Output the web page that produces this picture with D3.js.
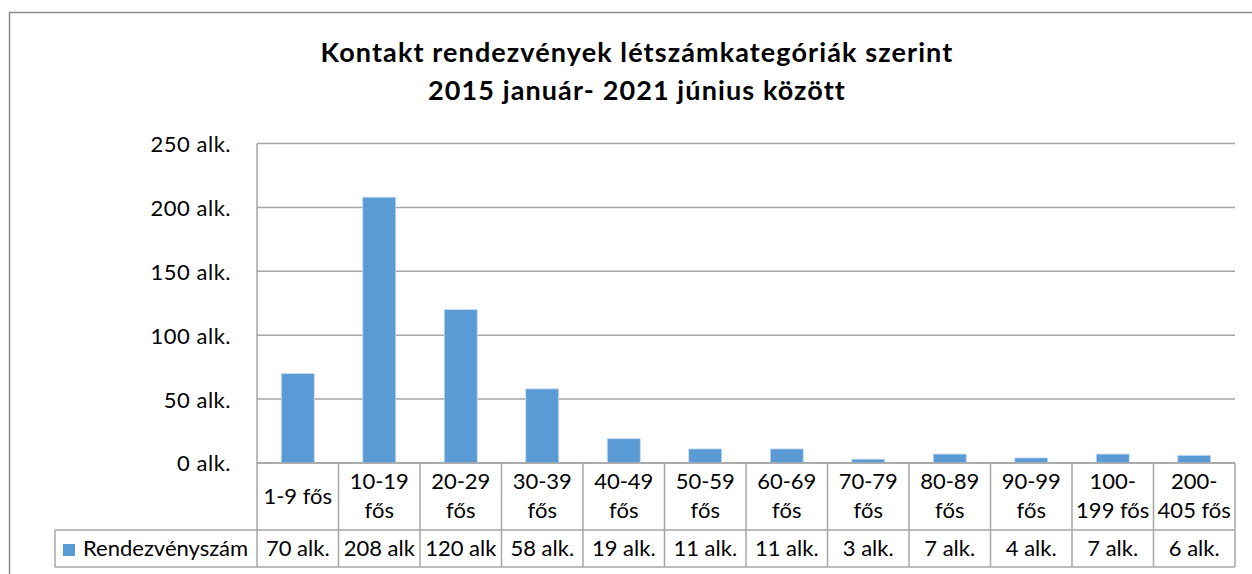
<!DOCTYPE html>
<html>
<head>
<meta charset="utf-8">
<script src="https://cdn.jsdelivr.net/npm/d3@7"></script>
<style>
  html, body { margin: 0; padding: 0; background: #fff; }
  svg { display: block; }
  text { font-family: Lato, "Noto Sans", sans-serif; fill: #000; }
</style>
</head>
<body>
<div id="chart"></div>
<script>
// ---- data ----
const titleLines = ["Kontakt rendezvények létszámkategóriák szerint", "2015 január- 2021 június között"];
const categories = ["1-9 fős", "10-19 fős", "20-29 fős", "30-39 fős", "40-49 fős", "50-59 fős",
                    "60-69 fős", "70-79 fős", "80-89 fős", "90-99 fős", "100-199 fős", "200-405 fős"];
const categoryLines = [["1-9 fős"], ["10-19", "fős"], ["20-29", "fős"], ["30-39", "fős"], ["40-49", "fős"],
                       ["50-59", "fős"], ["60-69", "fős"], ["70-79", "fős"], ["80-89", "fős"], ["90-99", "fős"],
                       ["100-", "199 fős"], ["200-", "405 fős"]];
const seriesName = "Rendezvényszám";
const values = [70, 208, 120, 58, 19, 11, 11, 3, 7, 4, 7, 6];
const valueLabels = ["70 alk.", "208 alk", "120 alk", "58 alk.", "19 alk.", "11 alk.", "11 alk.",
                     "3 alk.", "7 alk.", "4 alk.", "7 alk.", "6 alk."];
const yTicks = [0, 50, 100, 150, 200, 250];

// ---- layout ----
const W = 1252, H = 574;
const plotL = 257, plotR = 1235, plotT = 143.5, plotB = 463;
const rowMid = 530, rowBot = 567, legendL = 55;
const gridColor = "#a6a6a6", barColor = "#5b9bd5";
const fs = "22px";

const svg = d3.select("#chart").append("svg").attr("width", W).attr("height", H);
svg.append("rect").attr("width", W).attr("height", H).attr("fill", "#fff");

// outer chart border
svg.append("path")
  .attr("d", `M9.5,${H} L9.5,12.5 L${W},12.5`)
  .attr("fill", "none").attr("stroke", "#8c8c8c").attr("stroke-width", 1.5);

// title
svg.append("g").selectAll("text").data(titleLines).join("text")
  .attr("x", 637).attr("y", (d, i) => 62 + i * 38)
  .attr("text-anchor", "middle")
  .style("font-weight", "bold").style("font-size", "27px").style("letter-spacing", "1.1px")
  .text(d => d);

const x = d3.scaleBand().domain(categories).range([plotL, plotR]).paddingInner(0).paddingOuter(0);
const y = d3.scaleLinear().domain([0, 250]).range([plotB, plotT]);

// gridlines
svg.append("g").selectAll("line").data(yTicks).join("line")
  .attr("x1", plotL).attr("x2", plotR)
  .attr("y1", d => y(d)).attr("y2", d => y(d))
  .attr("stroke", gridColor).attr("stroke-width", 1.5);

// y axis labels via d3 axis
const yAxis = d3.axisLeft(y).tickValues(yTicks).tickFormat(d => d + " alk.").tickSize(0).tickPadding(0);
const gy = svg.append("g").attr("transform", `translate(${231},0)`).call(yAxis);
gy.select(".domain").remove();
gy.selectAll("text")
  .style("font-family", "Lato, 'Noto Sans', sans-serif")
  .style("font-size", fs).style("letter-spacing", "0.5px")
  .attr("fill", "#000").attr("dy", "0.36em");

// bars
const bw = x.bandwidth() * 0.405;
svg.append("g").selectAll("rect").data(values).join("rect")
  .attr("x", (d, i) => x(categories[i]) + (x.bandwidth() - bw) / 2)
  .attr("y", d => y(d))
  .attr("width", bw)
  .attr("height", d => plotB - y(d))
  .attr("fill", barColor)
  .attr("stroke", "#c6dcf1").attr("stroke-width", 0.8);

// y axis line (extends through the data table)
svg.append("line").attr("x1", plotL).attr("x2", plotL).attr("y1", plotT).attr("y2", rowBot)
  .attr("stroke", gridColor).attr("stroke-width", 1.5);

// table lines
const tbl = svg.append("g").attr("stroke", gridColor).attr("stroke-width", 1.5);
tbl.append("line").attr("x1", plotL).attr("x2", plotR).attr("y1", plotB).attr("y2", plotB);
tbl.append("line").attr("x1", legendL).attr("x2", plotR).attr("y1", rowMid).attr("y2", rowMid);
tbl.append("line").attr("x1", legendL).attr("x2", plotR).attr("y1", rowBot).attr("y2", rowBot);
tbl.append("line").attr("x1", legendL).attr("x2", legendL).attr("y1", rowMid).attr("y2", rowBot);
tbl.selectAll("line.v").data(categories).join("line").attr("class", "v")
  .attr("x1", d => x(d) + x.bandwidth()).attr("x2", d => x(d) + x.bandwidth())
  .attr("y1", plotB).attr("y2", rowBot);

// category labels
const catG = svg.append("g").selectAll("text").data(categories).join("text")
  .attr("text-anchor", "middle").style("font-size", fs);
catG.each(function (d, i) {
  const lines = categoryLines[i];
  const cx = x(d) + x.bandwidth() / 2;
  const base = lines.length === 1 ? 504 : 489;
  d3.select(this).selectAll("tspan").data(lines).join("tspan")
    .attr("x", cx).attr("y", (l, j) => base + j * 29).text(l => l);
});

// value row
svg.append("g").selectAll("text").data(valueLabels).join("text")
  .attr("x", (d, i) => x(categories[i]) + x.bandwidth() / 2)
  .attr("y", 556).attr("text-anchor", "middle").style("font-size", fs)
  .text(d => d);

// legend key
svg.append("rect").attr("x", 63).attr("y", 544).attr("width", 12).attr("height", 12).attr("fill", barColor);
svg.append("text").attr("x", 83).attr("y", 556).style("font-size", fs).text(seriesName);
</script>
</body>
</html>
